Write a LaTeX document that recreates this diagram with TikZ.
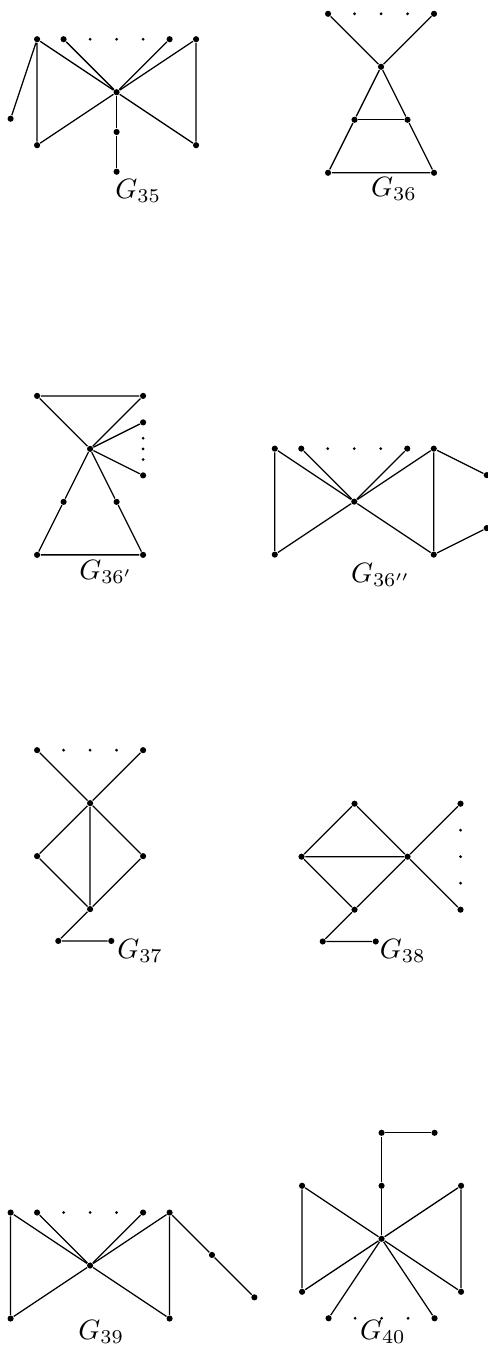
\documentclass[tikz,border=0pt]{standalone}
\usetikzlibrary{positioning}
\tikzset{
  vtx/.style={circle, fill=black, inner sep=0pt, minimum size=2.2pt},
  pt/.style={circle, fill=black, inner sep=0pt, minimum size=1.1pt},
  lbl/.style={inner sep=0pt, font=\normalsize},
}

\begin{document}
\begin{tikzpicture}[x=0.333cm, y=0.333cm, line width=0.45pt]
\useasboundingbox (0,0) rectangle (18.38,-50.91);

% G35
\begin{scope}[shift={(4.40,-3.48)}]
\node[vtx] (a-c) at (0,0) {};
\node[vtx] (a-tl) at (-3,2) {};
\node[vtx] (a-t2) at (-2,2) {};
\node[pt] (a-d1) at (-1,2) {};
\node[pt] (a-d2) at (0,2) {};
\node[pt] (a-d3) at (1,2) {};
\node[vtx] (a-t4) at (2,2) {};
\node[vtx] (a-tr) at (3,2) {};
\node[vtx] (a-far) at (-4,-1) {};
\node[vtx] (a-bl) at (-3,-2) {};
\node[vtx] (a-br) at (3,-2) {};
\node[vtx] (a-m) at (0,-1.5) {};
\node[vtx] (a-s) at (0,-3) {};
\node[lbl] (a-lab) at (0.82,-3.72) {$G_{35}$};
\draw (a-far) -- (a-tl) -- (a-bl) -- (a-c) -- (a-tl);
\draw (a-t2) -- (a-c) -- (a-t4);
\draw (a-tr) -- (a-c) -- (a-br) -- (a-tr);
\draw (a-c) -- (a-m) -- (a-s);
\end{scope}

% G36
\begin{scope}[shift={(14.38,-2.52)}]
\node[vtx] (b-c) at (0,0) {};
\node[vtx] (b-tl) at (-2,2) {};
\node[pt] (b-d1) at (-1,2) {};
\node[pt] (b-d2) at (0,2) {};
\node[pt] (b-d3) at (1,2) {};
\node[vtx] (b-tr) at (2,2) {};
\node[vtx] (b-ml) at (-1,-2) {};
\node[vtx] (b-mr) at (1,-2) {};
\node[vtx] (b-bl) at (-2,-4) {};
\node[vtx] (b-br) at (2,-4) {};
\node[lbl] (b-lab) at (0.49,-4.62) {$G_{36}$};
\draw (b-tl) -- (b-c) -- (b-tr);
\draw (b-c) -- (b-ml) -- (b-bl) -- (b-br) -- (b-mr) -- (b-c);
\draw (b-ml) -- (b-mr);
\end{scope}

% G36'
\begin{scope}[shift={(3.40,-16.94)}]
\node[vtx] (c-c) at (0,0) {};
\node[vtx] (c-tl) at (-2,2) {};
\node[vtx] (c-tr) at (2,2) {};
\node[vtx] (c-ru) at (2,1) {};
\node[pt] (c-d1) at (2,0.4) {};
\node[pt] (c-d2) at (2,0) {};
\node[pt] (c-d3) at (2,-0.4) {};
\node[vtx] (c-rl) at (2,-1) {};
\node[vtx] (c-ml) at (-1,-2) {};
\node[vtx] (c-mr) at (1,-2) {};
\node[vtx] (c-bl) at (-2,-4) {};
\node[vtx] (c-br) at (2,-4) {};
\node[lbl] (c-lab) at (0.6,-4.64) {$G_{36'}$};
\draw (c-tl) -- (c-tr) -- (c-c) -- (c-tl);
\draw (c-ru) -- (c-c) -- (c-rl);
\draw (c-c) -- (c-ml) -- (c-bl) -- (c-br) -- (c-mr) -- (c-c);
\end{scope}

% G36''
\begin{scope}[shift={(13.37,-18.93)}]
\node[vtx] (d-c) at (0,0) {};
\node[vtx] (d-tl) at (-3,2) {};
\node[vtx] (d-t2) at (-2,2) {};
\node[pt] (d-d1) at (-1,2) {};
\node[pt] (d-d2) at (0,2) {};
\node[pt] (d-d3) at (1,2) {};
\node[vtx] (d-t4) at (2,2) {};
\node[vtx] (d-tr) at (3,2) {};
\node[vtx] (d-bl) at (-3,-2) {};
\node[vtx] (d-br) at (3,-2) {};
\node[vtx] (d-fu) at (5,1) {};
\node[vtx] (d-fl) at (5,-1) {};
\node[lbl] (d-lab) at (1.0,-2.77) {$G_{36''}$};
\draw (d-tl) -- (d-bl) -- (d-c) -- (d-tl);
\draw (d-t2) -- (d-c) -- (d-t4);
\draw (d-tr) -- (d-c) -- (d-br) -- (d-tr);
\draw (d-tr) -- (d-fu);
\draw (d-br) -- (d-fl);
\end{scope}

% G37
\begin{scope}[shift={(3.40,-30.31)}]
\node[vtx] (e-c) at (0,0) {};
\node[vtx] (e-tl) at (-2,2) {};
\node[pt] (e-d1) at (-1,2) {};
\node[pt] (e-d2) at (0,2) {};
\node[pt] (e-d3) at (1,2) {};
\node[vtx] (e-tr) at (2,2) {};
\node[vtx] (e-l) at (-2,-2) {};
\node[vtx] (e-r) at (2,-2) {};
\node[vtx] (e-b) at (0,-4) {};
\node[vtx] (e-t1) at (-1.2,-5.2) {};
\node[vtx] (e-t2) at (0.8,-5.2) {};
\node[lbl] (e-lab) at (1.89,-5.57) {$G_{37}$};
\draw (e-tl) -- (e-c) -- (e-tr);
\draw (e-c) -- (e-l) -- (e-b) -- (e-r) -- (e-c);
\draw (e-c) -- (e-b) -- (e-t1) -- (e-t2);
\end{scope}

% G38
\begin{scope}[shift={(15.38,-32.33)}]
\node[vtx] (f-c) at (0,0) {};
\node[vtx] (f-t) at (-2,2) {};
\node[vtx] (f-l) at (-4,0) {};
\node[vtx] (f-b) at (-2,-2) {};
\node[vtx] (f-rt) at (2,2) {};
\node[pt] (f-d1) at (2,1) {};
\node[pt] (f-d2) at (2,0) {};
\node[pt] (f-d3) at (2,-1) {};
\node[vtx] (f-rb) at (2,-2) {};
\node[vtx] (f-t1) at (-3.2,-3.2) {};
\node[vtx] (f-t2) at (-1.2,-3.2) {};
\node[lbl] (f-lab) at (-0.18,-3.56) {$G_{38}$};
\draw (f-l) -- (f-t) -- (f-c) -- (f-b) -- (f-l) -- (f-c);
\draw (f-rt) -- (f-c) -- (f-rb);
\draw (f-b) -- (f-t1) -- (f-t2);
\end{scope}

% G39
\begin{scope}[shift={(3.40,-47.76)}]
\node[vtx] (g-c) at (0,0) {};
\node[vtx] (g-tl) at (-3,2) {};
\node[vtx] (g-t2) at (-2,2) {};
\node[pt] (g-d1) at (-1,2) {};
\node[pt] (g-d2) at (0,2) {};
\node[pt] (g-d3) at (1,2) {};
\node[vtx] (g-t4) at (2,2) {};
\node[vtx] (g-tr) at (3,2) {};
\node[vtx] (g-bl) at (-3,-2) {};
\node[vtx] (g-br) at (3,-2) {};
\node[vtx] (g-p1) at (4.6,0.4) {};
\node[vtx] (g-p2) at (6.2,-1.2) {};
\node[lbl] (g-lab) at (0.42,-2.51) {$G_{39}$};
\draw (g-tl) -- (g-bl) -- (g-c) -- (g-tl);
\draw (g-t2) -- (g-c) -- (g-t4);
\draw (g-tr) -- (g-c) -- (g-br) -- (g-tr);
\draw (g-tr) -- (g-p1) -- (g-p2);
\end{scope}

% G40
\begin{scope}[shift={(14.40,-46.75)}]
\node[vtx] (h-c) at (0,0) {};
\node[vtx] (h-m) at (0,2) {};
\node[vtx] (h-s) at (0,4) {};
\node[vtx] (h-sr) at (2,4) {};
\node[vtx] (h-tl) at (-3,2) {};
\node[vtx] (h-tr) at (3,2) {};
\node[vtx] (h-bl) at (-3,-2) {};
\node[vtx] (h-br) at (3,-2) {};
\node[vtx] (h-b1) at (-2,-3) {};
\node[pt] (h-d1) at (-1,-3) {};
\node[pt] (h-d2) at (0,-3) {};
\node[pt] (h-d3) at (1,-3) {};
\node[vtx] (h-b2) at (2,-3) {};
\node[lbl] (h-lab) at (0.05,-3.52) {$G_{40}$};
\draw (h-c) -- (h-m) -- (h-s) -- (h-sr);
\draw (h-tl) -- (h-bl) -- (h-c) -- (h-tl);
\draw (h-tr) -- (h-c) -- (h-br) -- (h-tr);
\draw (h-b1) -- (h-c) -- (h-b2);
\end{scope}

\end{tikzpicture}
\end{document}
